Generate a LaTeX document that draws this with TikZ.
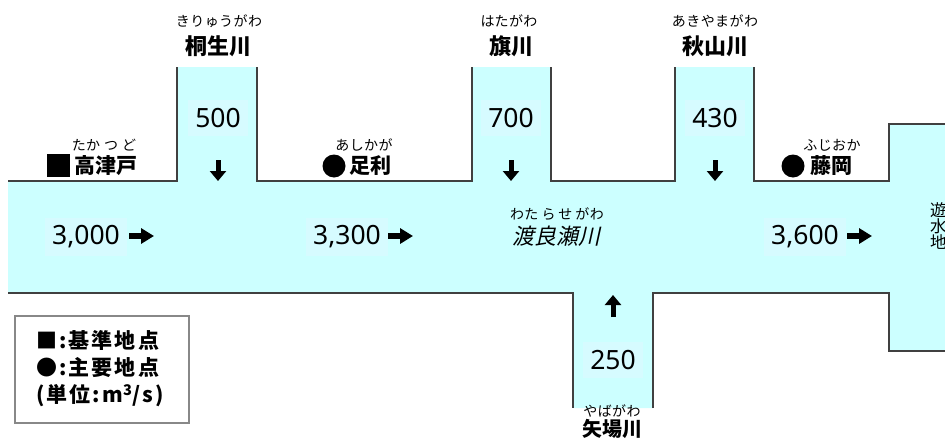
\documentclass[tikz,border=0pt]{standalone}
\usepackage{fontspec}
\setmainfont{Noto Sans CJK JP}
\newfontfamily\numfont{Noto Sans}
\newfontfamily\jpit[FakeSlant=0.22]{Noto Sans CJK JP}
\newfontfamily\legfont[LetterSpace=10]{Noto Sans CJK JP}
\newfontfamily\furifont[LetterSpace=3]{Noto Sans CJK JP}
\usetikzlibrary{arrows.meta}
\definecolor{water}{RGB}{204,255,255}
\definecolor{edge}{RGB}{64,64,64}
\definecolor{numbg}{RGB}{214,251,255}
\definecolor{legendedge}{RGB}{136,136,136}
\tikzset{
  furi/.style={font=\furifont\fontsize{14}{15}\selectfont, inner sep=0pt},
  rivername/.style={font=\fontsize{22}{24}\selectfont\bfseries, inner sep=0pt},
  placename/.style={font=\fontsize{21}{23}\selectfont\bfseries, inner sep=0pt},
  flow/.style={font=\numfont\fontsize{26.5}{28}\selectfont, fill=numbg, inner xsep=7pt, inner ysep=8pt},
  downarrow/.style={line width=5pt, -{Triangle[length=10pt,width=16pt]}},
  rightarrow/.style={line width=6pt, -{Triangle[length=13pt,width=15pt]}},
  outline/.style={draw=edge, line width=1.5pt},
  legendbox/.style={draw=legendedge, line width=1.5pt, minimum width=174pt, minimum height=107pt, inner sep=0pt},
  legendtext/.style={font=\legfont\fontsize{21}{27}\selectfont\bfseries, align=left, inner sep=0pt},
}
\begin{document}
\begin{tikzpicture}[x=1pt,y=-1pt]
\useasboundingbox (0,0) rectangle (945,439);
\clip (0,0) rectangle (945,439);
% water body
\fill[water] (8,181) -- (177,181) -- (177,67) -- (257,67) -- (257,181) -- (472,181) -- (472,67) -- (551,67) -- (551,181) -- (675,181) -- (675,67) -- (754,67) -- (754,181) -- (889,181) -- (889,124) -- (955,124) -- (955,351) -- (889,351) -- (889,293) -- (653,293) -- (653,408) -- (573,408) -- (573,293) -- (8,293) -- cycle;
% banks
\draw[outline] (8,181) -- (177,181) -- (177,67);
\draw[outline] (257,67) -- (257,181) -- (472,181) -- (472,67);
\draw[outline] (551,67) -- (551,181) -- (675,181) -- (675,67);
\draw[outline] (754,67) -- (754,181) -- (889,181) -- (889,124) -- (955,124);
\draw[outline] (8,293) -- (573,293) -- (573,408);
\draw[outline] (653,408) -- (653,293) -- (889,293) -- (889,351) -- (955,351);

% tributary names
\node[furi] (kiryuF) at (219,21) {きりゅうがわ};
\node[rivername] (kiryu) at (218,46) {桐生川};
\node[furi] (hataF) at (509,21) {はたがわ};
\node[rivername] (hata) at (511,46) {旗川};
\node[furi] (akiF) at (715,21) {あきやまがわ};
\node[rivername] (aki) at (715,46) {秋山川};

% tributary flows
\node[flow] (q500) at (218,118) {500};
\node[flow] (q700) at (511,118) {700};
\node[flow] (q430) at (715,118) {430};
\coordinate (k1) at (218,160); \coordinate (k2) at (218,181);
\coordinate (h1) at (511,160); \coordinate (h2) at (511,181);
\coordinate (a1) at (715,160); \coordinate (a2) at (715,181);
\draw[downarrow] (k1) -- (k2);
\draw[downarrow] (h1) -- (h2);
\draw[downarrow] (a1) -- (a2);

% places
\node[furi] (takaF) at (104,145) {たか\hspace{4pt}つ\hspace{4pt}ど};
\node[fill=black, minimum size=23pt, inner sep=0pt] (takaM) at (58.5,165.5) {};
\node[placename] (taka) at (106,166) {高津戸};
\node[furi] (ashiF) at (364,145) {あしかが};
\node[fill=black, circle, minimum size=23pt, inner sep=0pt] (ashiM) at (334,166) {};
\node[placename] (ashi) at (370,166) {足利};
\node[furi] (fujiF) at (832,145) {ふじおか};
\node[fill=black, circle, minimum size=23pt, inner sep=0pt] (fujiM) at (793,166) {};
\node[placename] (fuji) at (831,166) {藤岡};

% main river
\node[furi] (wataF) at (557,214) {わた\hspace{3pt}ら\hspace{3pt}せ\hspace{3pt}がわ};
\node[font=\fontsize{22}{24}\selectfont\jpit, inner sep=0pt] (wata) at (556,236) {渡良瀬川};
\node[flow] (q3000) at (86,237) {3,000};
\node[flow] (q3300) at (347,237) {3,300};
\node[flow] (q3600) at (805,237) {3,600};
\coordinate (r1a) at (129,236); \coordinate (r1b) at (154,236);
\coordinate (r2a) at (388,236); \coordinate (r2b) at (413,236);
\coordinate (r3a) at (847,236); \coordinate (r3b) at (872,236);
\draw[rightarrow] (r1a) -- (r1b);
\draw[rightarrow] (r2a) -- (r2b);
\draw[rightarrow] (r3a) -- (r3b);

% Yaba river
\coordinate (y1) at (613,317); \coordinate (y2) at (613,295);
\draw[downarrow] (y1) -- (y2);
\node[flow] (q250) at (613,360) {250};
\node[furi] (yabaF) at (612,411) {やばがわ};
\node[font=\fontsize{20}{22}\selectfont\bfseries, inner sep=0pt] (yaba) at (612,429) {矢場川};

% retarding basin
\node[font=\fontsize{16.5}{14.5}\selectfont, align=left, inner sep=0pt, anchor=north west] (yusui) at (930,202) {遊\\水\\地};

% legend
\node[legendbox] (legend) at (102,369.5) {};
\node[legendtext, anchor=west] (legtxt) at (36,369) {■:基準地点\\●:主要地点\\(単位:m\textsuperscript{3}/s)};
\end{tikzpicture}
\end{document}
